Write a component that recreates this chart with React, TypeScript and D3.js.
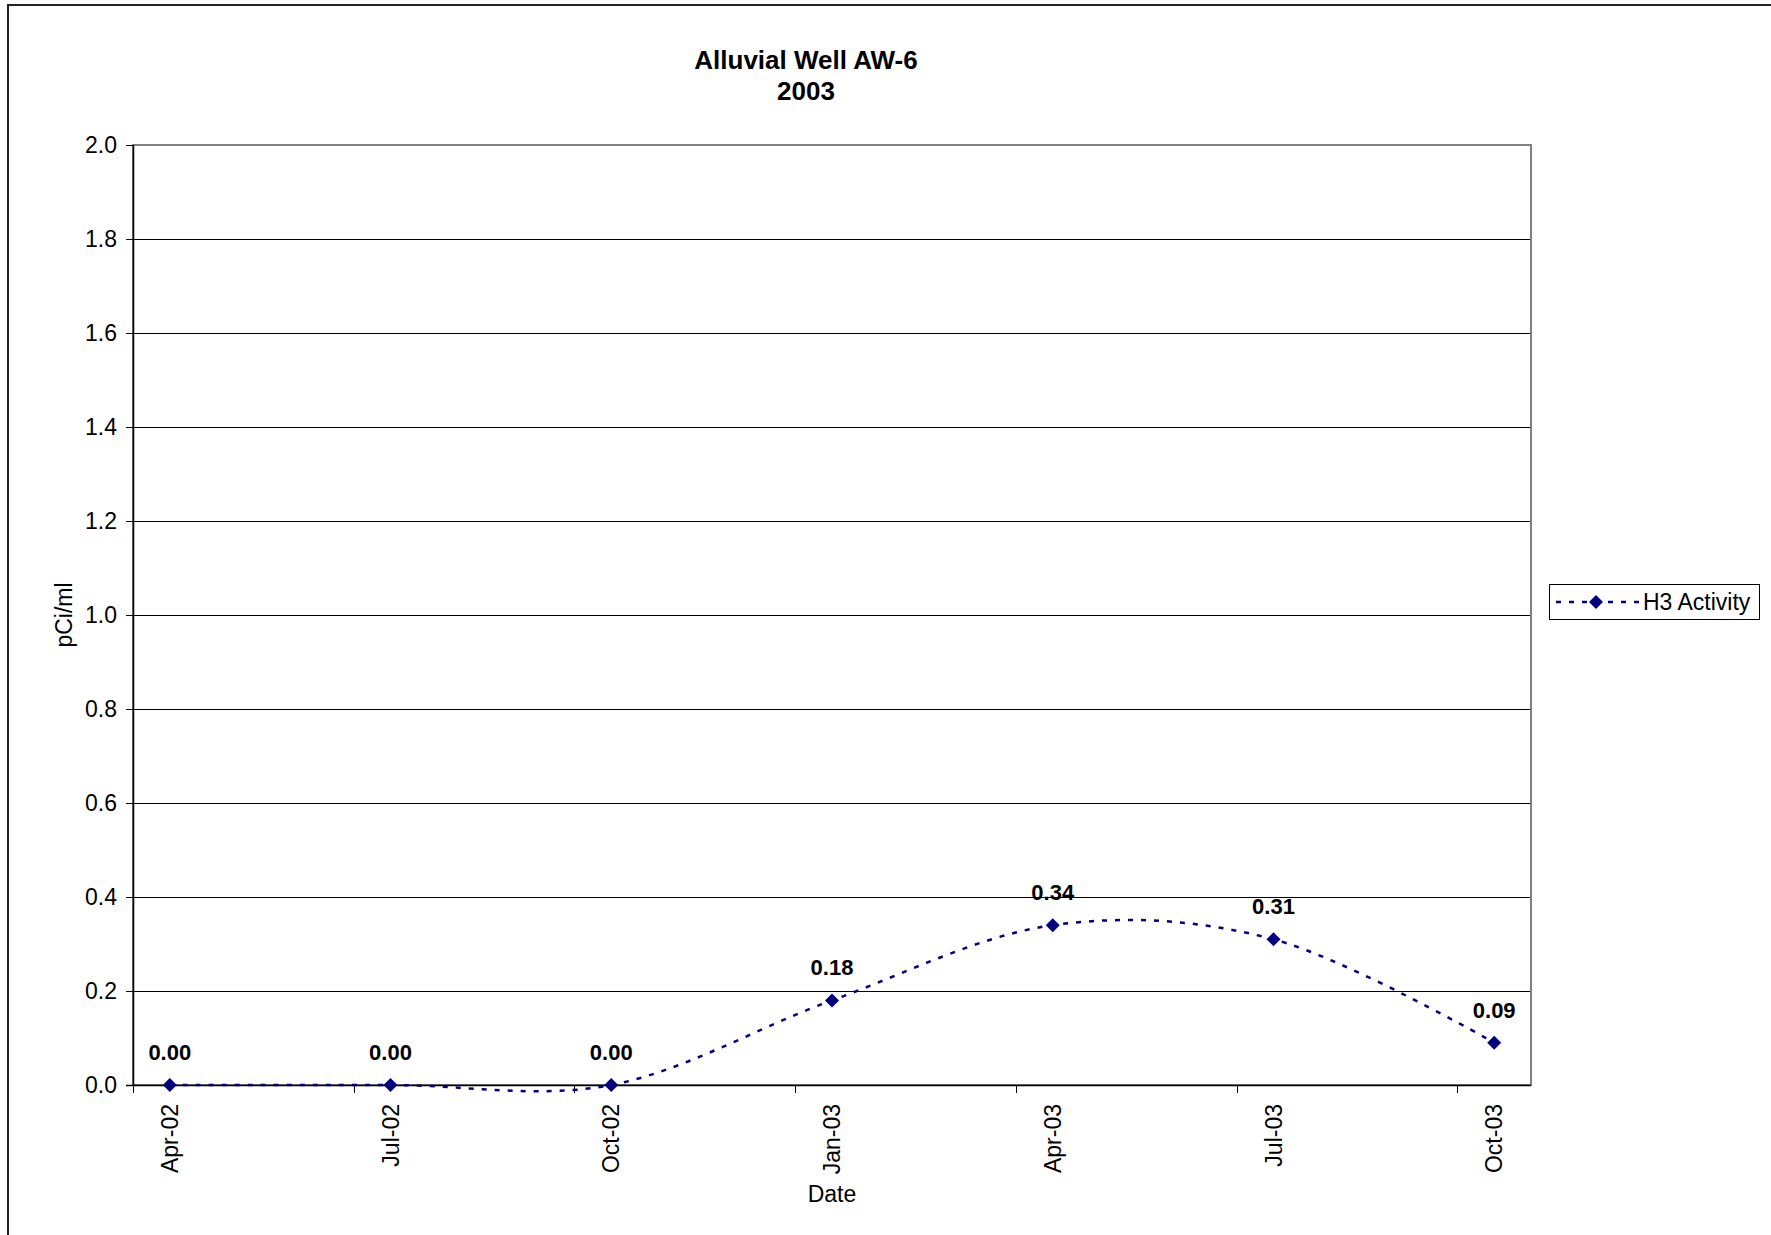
import React from "react";
import * as d3 from "d3";

// H3 activity samples for alluvial well AW-6
const sampleDates = ["2002-04-16", "2002-07-16", "2002-10-16", "2003-01-16", "2003-04-16", "2003-07-16", "2003-10-16"];
const h3Activity = [0.0, 0.0, 0.0, 0.18, 0.34, 0.31, 0.09];
const yTicks = [0, 0.2, 0.4, 0.6, 0.8, 1.0, 1.2, 1.4, 1.6, 1.8, 2.0];
const axisStart = "2002-04-01";
const axisMonths = 19; // axis length in months
const tickEveryMonths = 3;

const titleLines = ["Alluvial Well AW-6", "2003"];
const seriesName = "H3 Activity";

const W = 1771;
const H = 1235;
const plot = { left: 133, right: 1531, top: 145, bottom: 1085 };
const FONT = "'Liberation Sans', Arial, sans-serif";
const NAVY = "#000080";

const parse = d3.timeParse("%Y-%m-%d");
const fmtMonth = d3.timeFormat("%b-%y");

export default function App() {
  const start = parse(axisStart) as Date;
  const dates = sampleDates.map((s) => parse(s) as Date);
  // month-based axis: each month gets equal width
  const monthPos = (d: Date) => d3.timeMonth.count(start, d) + (d.getDate() - 1) / 30;
  const xm = d3.scaleLinear().domain([0, axisMonths]).range([plot.left, plot.right]);
  const x = (d: Date) => xm(monthPos(d));
  const y = d3.scaleLinear().domain([0, 2]).range([plot.bottom, plot.top]);
  const xTicks = d3.range(0, axisMonths, tickEveryMonths);

  const pts: [number, number][] = dates.map((d, i) => [x(d), y(h3Activity[i])]);
  const line = d3.line().curve(d3.curveCardinal.tension(0))(pts) || "";
  const diamond = (cx: number, cy: number, r = 7) =>
    `M${cx},${cy - r}L${cx + r},${cy}L${cx},${cy + r}L${cx - r},${cy}Z`;

  const cx = (plot.left + plot.right) / 2;

  return (
    <div style={{ position: "absolute", left: 0, top: 0 }}>
      <svg width={W} height={H} style={{ display: "block", background: "#fff" }} fontFamily={FONT}>
        <rect x={0} y={0} width={W} height={H} fill="#fff" />
        {/* outer chart frame */}
        <rect x={8} y={5} width={W + 20} height={H + 20} fill="none" stroke="#222" strokeWidth={2} />

        {/* title */}
        <text x={806} y={69} textAnchor="middle" fontSize={26} fontWeight="bold">{titleLines[0]}</text>
        <text x={806} y={100} textAnchor="middle" fontSize={26} fontWeight="bold">{titleLines[1]}</text>

        {/* plot area border */}
        <rect
          x={plot.left}
          y={plot.top}
          width={plot.right - plot.left}
          height={plot.bottom - plot.top}
          fill="#fff"
          stroke="#808080"
          strokeWidth={2}
        />

        {/* horizontal gridlines */}
        {yTicks.slice(1, -1).map((t) => (
          <line key={t} x1={plot.left} x2={plot.right - 1} y1={Math.round(y(t)) + 0.5} y2={Math.round(y(t)) + 0.5} stroke="#000" strokeWidth={1} />
        ))}

        {/* y axis */}
        <line x1={plot.left + 0.5} x2={plot.left + 0.5} y1={plot.top} y2={plot.bottom} stroke="#000" strokeWidth={1.5} />
        {yTicks.map((t) => (
          <g key={t}>
            <line x1={plot.left - 7} x2={plot.left} y1={Math.round(y(t)) + 0.5} y2={Math.round(y(t)) + 0.5} stroke="#000" strokeWidth={1} />
            <text x={plot.left - 16} y={y(t)} dy="0.35em" textAnchor="end" fontSize={23}>
              {d3.format(".1f")(t)}
            </text>
          </g>
        ))}

        {/* x axis */}
        <line x1={plot.left - 7} x2={plot.right} y1={plot.bottom + 0.5} y2={plot.bottom + 0.5} stroke="#000" strokeWidth={1.5} />
        {xTicks.map((t, i) => (
          <line key={i} x1={Math.round(xm(t)) + 0.5} x2={Math.round(xm(t)) + 0.5} y1={plot.bottom} y2={plot.bottom + 8} stroke="#000" strokeWidth={1} />
        ))}
        {dates.map((d, i) => (
          <text
            key={i}
            transform={`translate(${x(d)},${plot.bottom + 19}) rotate(-90)`}
            textAnchor="end"
            dy="0.35em"
            fontSize={23}
          >
            {fmtMonth(d)}
          </text>
        ))}

        {/* axis titles */}
        <text x={cx} y={1202} textAnchor="middle" fontSize={23}>Date</text>
        <text transform={`translate(64,${(plot.top + plot.bottom) / 2}) rotate(-90)`} textAnchor="middle" dy="0.35em" fontSize={23}>
          pCi/ml
        </text>

        {/* series */}
        <path d={line} fill="none" stroke={NAVY} strokeWidth={2.5} strokeDasharray="5 8" />
        {pts.map(([px, py], i) => (
          <path key={i} d={diamond(px, py)} fill={NAVY} />
        ))}
        {pts.map(([px, py], i) => (
          <text key={i} x={px} y={py - 25} textAnchor="middle" fontSize={22} fontWeight="bold">
            {d3.format(".2f")(h3Activity[i])}
          </text>
        ))}

        {/* legend */}
        <rect x={1549.5} y={584.5} width={210} height={35} fill="#fff" stroke="#000" strokeWidth={1} />
        <line x1={1556} x2={1642} y1={602} y2={602} stroke={NAVY} strokeWidth={2.5} strokeDasharray="5 8" />
        <path d={diamond(1596, 602)} fill={NAVY} />
        <text x={1643} y={602} dy="0.35em" fontSize={23}>{seriesName}</text>
      </svg>
    </div>
  );
}
